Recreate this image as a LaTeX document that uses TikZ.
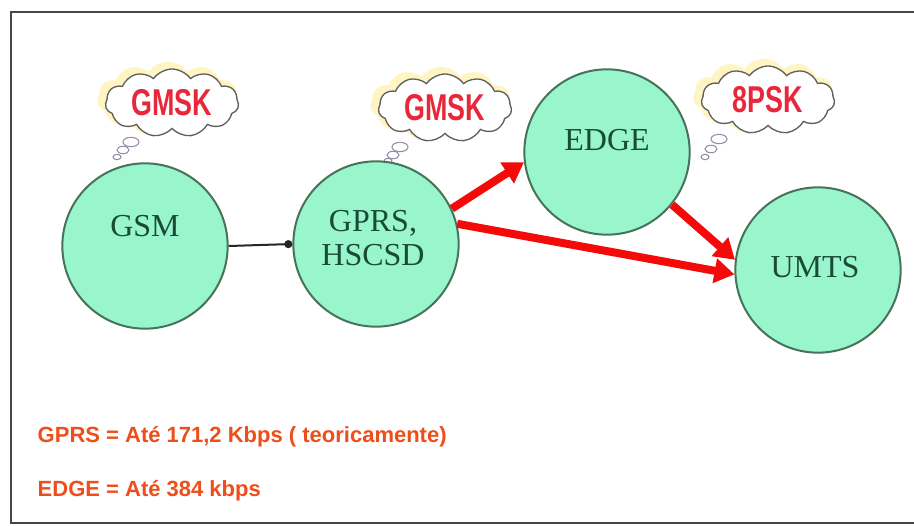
\documentclass[tikz,border=0pt]{standalone}
\usepackage{fontspec}
\usepackage{graphicx}
\setmainfont{Liberation Serif}
\newfontfamily\sansb{Liberation Sans}
\usetikzlibrary{shapes.symbols,arrows.meta}
\definecolor{mint}{RGB}{152,245,204}
\definecolor{mintline}{RGB}{70,115,90}
\definecolor{ctext}{RGB}{25,75,55}
\definecolor{cloudred}{RGB}{232,40,58}
\definecolor{noteorange}{RGB}{238,78,26}
\definecolor{arrowred}{RGB}{245,10,10}
\definecolor{glow}{RGB}{255,245,195}
\definecolor{bubblegray}{RGB}{150,140,165}
\begin{document}
\begin{tikzpicture}[x=0.75pt,y=-0.75pt,
  tech/.style={circle,draw=mintline,line width=1.5pt,fill=mint,minimum size=124pt,inner sep=0pt},
  techlabel/.style={font=\fontsize{24}{25}\selectfont,text=ctext,align=center},
  thought/.style={cloud,cloud puffs=11,cloud puff arc=110,draw=gray!75!black,line width=1pt,fill=white,
     minimum width=100pt,minimum height=51pt,cloud ignores aspect,inner sep=0pt,
     font=\sansb\bfseries\fontsize{28}{30}\selectfont,text=cloudred},
  thoughtglow/.style={cloud,cloud puffs=11,cloud puff arc=110,fill=glow,
     minimum width=106pt,minimum height=56pt,cloud ignores aspect,inner sep=0pt},
  bubble/.style={fill=white,draw=bubblegray,line width=0.8pt},
  redarrow/.style={draw=arrowred,line width=6pt,-{Triangle[length=15pt,width=18pt]}},
  note/.style={anchor=west,font=\sansb\bfseries\fontsize{16.5}{18}\selectfont,text=noteorange}
]
\clip (0,0) rectangle (914,525);
\fill[white] (0,0) rectangle (914,525);
\draw[gray!55!black,line width=1.6pt] (11,12) rectangle (918,523);

% thought clouds
\node[thoughtglow] (g1) at (168,99) {};
\node[thoughtglow] (g2) at (441,104) {};
\node[thoughtglow] (g3) at (764,96) {};
\node[thought] (c1) at (172,103) {\scalebox{0.72}[1]{GMSK}};
\node[thought] (c2) at (445,108) {\scalebox{0.72}[1]{GMSK}};
\node[thought] (c3) at (768,100) {\scalebox{0.72}[1]{8PSK}};
\draw[bubble] (131,142) ellipse (6pt and 3.5pt);
\draw[bubble] (123,150) ellipse (4.5pt and 2.8pt);
\draw[bubble] (117,157) ellipse (3pt and 2pt);
\draw[bubble] (400,147) ellipse (6pt and 3.5pt);
\draw[bubble] (393,155) ellipse (4.5pt and 2.8pt);
\draw[bubble] (388,161) ellipse (3pt and 2pt);
\draw[bubble] (719,139) ellipse (6pt and 3.5pt);
\draw[bubble] (711,149) ellipse (4.5pt and 2.8pt);
\draw[bubble] (705,157) ellipse (3pt and 2pt);

% technology circles
\node[tech] (gsm) at (145,246) {};
\node[tech] (gprs) at (376,244) {};
\node[tech] (edge) at (607,152) {};
\node[tech] (umts) at (818,270) {};
\node[techlabel] (gsmt) at (145,226) {GSM};
\node[techlabel] (gprst) at (373,238) {GPRS,\\HSCSD};
\node[techlabel] (edget) at (607,140) {EDGE};
\node[techlabel] (umtst) at (815,267) {UMTS};

% connectors
\draw[black!85,line width=1.5pt,-{Circle[length=6pt]}] (gsm.east) -- (gprs.west);
\draw[redarrow] (gprs.25) -- (edge.187);
\draw[redarrow] (gprs.14) -- (umts.183);
\draw[redarrow] (edge.-39) -- (umts.173);

% notes
\node[note] (n1) at (33,437) {GPRS = Até 171,2 Kbps ( teoricamente)};
\node[note] (n2) at (33,491) {EDGE = Até 384 kbps};
\end{tikzpicture}
\end{document}
